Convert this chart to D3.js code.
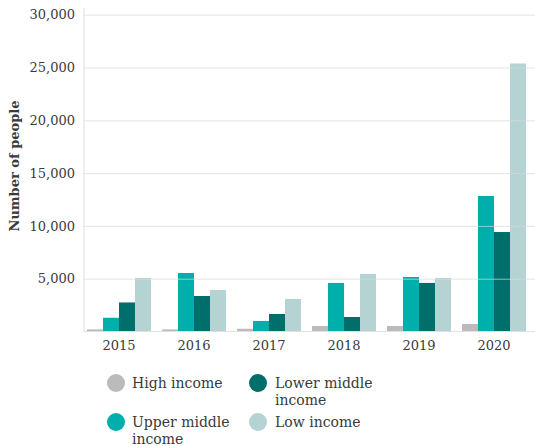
<!DOCTYPE html>
<html><head><meta charset="utf-8">
<script src="https://cdn.jsdelivr.net/npm/d3@7"></script>
<style>body{margin:0;background:#fff;} text{font-family:"DejaVu Serif",serif;fill:#3a3a3a;}</style>
</head><body><svg id="c" width="535" height="446"></svg>
<script>
const years = ["2015","2016","2017","2018","2019","2020"];
const seriesNames = ["High income","Upper middle income","Lower middle income","Low income"];
const highIncome = [200, 200, 260, 520, 520, 710];
const upperMiddle = [1300, 5540, 1000, 4600, 5160, 12830];
const lowerMiddle = [2750, 3360, 1660, 1370, 4600, 9420];
const lowIncome = [5070, 3930, 3080, 5450, 5070, 25380];
const yTicks = [5000, 10000, 15000, 20000, 25000, 30000];
const colors = ["#bbbbbb", "#00aeab", "#006e6b", "#b5d3d3"];
const seriesValues = [highIncome, upperMiddle, lowerMiddle, lowIncome];

const svg = d3.select("#c");
const x = d3.scaleBand().domain(years).range([81.5, 531.5]).paddingInner(0.1467).paddingOuter(0.0733);
const xi = d3.scaleBand().domain(d3.range(4)).range([0, x.bandwidth()]);
const y = d3.scaleLinear().domain([0, 30000]).range([331.5, 14.7]);

// bars
years.forEach((yr, i) => {
  svg.append("g").selectAll("rect").data(seriesValues.map((s, k) => ({k, v: s[i]})))
    .join("rect")
    .attr("x", d => x(yr) + xi(d.k))
    .attr("width", xi.bandwidth())
    .attr("y", d => y(d.v))
    .attr("height", d => y(0) - y(d.v))
    .attr("fill", d => colors[d.k]);
});

// grid
const yAxis = d3.axisLeft(y).tickValues(yTicks).tickSize(-(535 - 84)).tickFormat(d3.format(","));
const gy = svg.append("g").attr("transform", "translate(84,0)").call(yAxis);
gy.select(".domain").remove();
gy.selectAll(".tick line").attr("stroke", "#d8d8d8").attr("stroke-opacity", 0.7);
gy.selectAll(".tick text").attr("x", -9).attr("font-size", 13).attr("fill", "#3a3a3a");
// axis lines
svg.append("line").attr("x1", 84).attr("x2", 84).attr("y1", 8).attr("y2", y(0)).attr("stroke", "#e0e0e0");
svg.append("line").attr("x1", 84).attr("x2", 535).attr("y1", y(0)).attr("y2", y(0)).attr("stroke", "#e0e0e0");

// x axis labels
const xAxis = d3.axisBottom(x).tickSize(0).tickPadding(9);
const gx = svg.append("g").attr("transform", `translate(0,${y(0)})`).call(xAxis);
gx.select(".domain").remove();
gx.selectAll(".tick text").attr("font-size", 13).attr("fill", "#3a3a3a");

// y title
svg.append("text").attr("transform", "translate(19,166) rotate(-90)").attr("text-anchor", "middle")
  .attr("font-size", 13).attr("font-weight", "bold").text("Number of people");

// legend
const legendPos = [
  {cx: 116, cy: 383, tx: 132, lines: ["High income"]},
  {cx: 116, cy: 422, tx: 132, lines: ["Upper middle", "income"]},
  {cx: 258, cy: 383, tx: 275, lines: ["Lower middle", "income"]},
  {cx: 258, cy: 422, tx: 275, lines: ["Low income"]}
];
seriesNames.forEach((n, k) => {
  const p = legendPos[k];
  const g = svg.append("g");
  g.append("circle").attr("cx", p.cx).attr("cy", p.cy).attr("r", 9).attr("fill", colors[k]);
  p.lines.forEach((ln, j) => {
    g.append("text").attr("x", p.tx).attr("y", p.cy + 5 + j * 16.7).attr("font-size", 14).text(ln);
  });
});
</script></body></html>
